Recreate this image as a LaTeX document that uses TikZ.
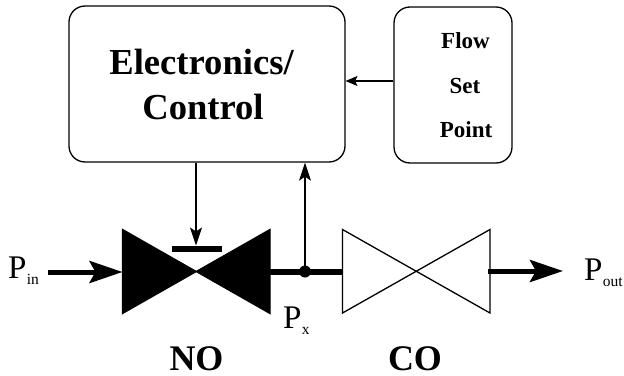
\documentclass[tikz,border=0pt]{standalone}
\usepackage{fontspec}
\setmainfont{Liberation Serif}
\usetikzlibrary{arrows.meta}
\newcommand{\subtxt}[1]{\kern0.3pt\raisebox{-6.5pt}{\fontsize{15.5}{15.5}\selectfont #1}}
\tikzset{
  panel/.style={draw,line width=1.3pt,rounded corners=16pt,minimum width=#1,minimum height=156pt,inner sep=0pt},
  bigtxt/.style={anchor=base,inner sep=0pt,font=\fontsize{36.6}{36.6}\selectfont\bfseries},
  smalltxt/.style={anchor=base,inner sep=0pt,font=\fontsize{23}{23}\selectfont\bfseries},
  ptxt/.style={anchor=base west,inner sep=0pt,font=\fontsize{33}{33}\selectfont},
  valvetxt/.style={anchor=base,inner sep=0pt,font=\fontsize{36}{36}\selectfont\bfseries},
  pipe/.style={line width=6pt},
  bighead/.style={-{Stealth[length=33pt,width=22pt,inset=6pt]},line width=5pt},
  sighead/.style={-{Stealth[length=18pt,width=12pt,inset=4pt]},line width=1.3pt},
  flowhead/.style={-{Stealth[length=12pt,width=10pt,inset=2.5pt]},line width=1.3pt},
  valve/.style={line join=miter,line width=1.3pt}
}
\begin{document}
\begin{tikzpicture}[x=1pt,y=-1pt]
\useasboundingbox (0,0) rectangle (624,375);
% boxes
\node[panel=276pt] (ctrl) at (207,84) {};
\node[panel=118pt] (flow) at (453,85) {};
\node[bigtxt] (t1) at (201.5,74) {Electronics/};
\node[bigtxt] (t2) at (203,119) {Control};
\node[smalltxt] (f1) at (465.5,48) {Flow};
\node[smalltxt] (f2) at (465,93) {Set};
\node[smalltxt] (f3) at (466,137) {Point};
% valve reference points
\coordinate (nl) at (122.5,272);
\coordinate (nr) at (270,271.5);
\coordinate (cl) at (342.5,271.5);
\coordinate (cr) at (488,271);
\coordinate (jn) at (305,271.5);
\coordinate (inS) at (48,272);
\coordinate (outE) at (563,271);
\coordinate (barT) at (196,245.5);
\coordinate (flowIn) at (345.5,81);
% valves
\fill[valve,draw] (122.5,229.5) -- (122.5,313.5) -- (270,229.5) -- (270,313.5) -- cycle;
\draw[valve] (342.5,229.5) -- (342.5,313) -- (490,229.5) -- (490,313) -- cycle;
\fill (172,246) rectangle (222,251.5);
% pipes
\draw[pipe] (nr) -- (cl);
\fill (jn) circle (6pt);
\draw[bighead] (inS) -- (nl);
\draw[bighead] (cr) -- (outE);
% signals
\draw[sighead] (ctrl.south -| barT) -- (barT);
\draw[sighead] (jn) -- (ctrl.south -| jn);
\draw[flowhead] (flow.west |- flowIn) -- (flowIn);
% labels
\node[ptxt] (pin) at (8,278) {P\subtxt{in}};
\node[ptxt] (px) at (283,328) {P\subtxt{x}};
\node[ptxt] (pout) at (584,280) {P\subtxt{out}};
\node[valvetxt] (no) at (196.5,370) {NO};
\node[valvetxt] (co) at (415,370) {CO};
\end{tikzpicture}
\end{document}
